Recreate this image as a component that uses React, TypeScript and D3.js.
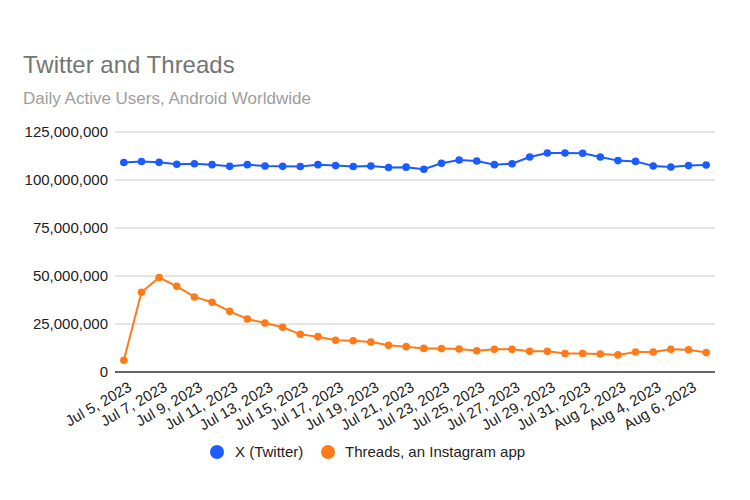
import React from "react";
import * as d3 from "d3";

// dates on the x axis (one point per day)
const dates = [
  "Jul 5, 2023", "Jul 6, 2023", "Jul 7, 2023", "Jul 8, 2023", "Jul 9, 2023",
  "Jul 10, 2023", "Jul 11, 2023", "Jul 12, 2023", "Jul 13, 2023", "Jul 14, 2023",
  "Jul 15, 2023", "Jul 16, 2023", "Jul 17, 2023", "Jul 18, 2023", "Jul 19, 2023",
  "Jul 20, 2023", "Jul 21, 2023", "Jul 22, 2023", "Jul 23, 2023", "Jul 24, 2023",
  "Jul 25, 2023", "Jul 26, 2023", "Jul 27, 2023", "Jul 28, 2023", "Jul 29, 2023",
  "Jul 30, 2023", "Jul 31, 2023", "Aug 1, 2023", "Aug 2, 2023", "Aug 3, 2023",
  "Aug 4, 2023", "Aug 5, 2023", "Aug 6, 2023", "Aug 7, 2023",
];

// daily active users, millions
const twitter = [
  109.1, 109.6, 109.2, 108.2, 108.5, 108.0, 107.1, 108.0, 107.3, 107.1,
  107.0, 108.0, 107.5, 107.0, 107.3, 106.5, 106.7, 105.6, 108.7, 110.4,
  109.9, 108.0, 108.5, 112.0, 114.1, 114.1, 113.9, 112.0, 110.1, 109.7,
  107.3, 106.8, 107.5, 107.8,
];

const threads = [
  6.1, 41.5, 49.2, 44.6, 39.1, 36.3, 31.6, 27.6, 25.5, 23.3,
  19.6, 18.4, 16.5, 16.3, 15.6, 13.9, 13.2, 12.3, 12.2, 12.0,
  11.1, 11.8, 11.8, 10.8, 10.8, 9.6, 9.6, 9.4, 8.9, 10.4,
  10.4, 11.8, 11.6, 10.1,
];

const yTicks = [0, 25, 50, 75, 100, 125];

const seriesNames = ["X (Twitter)", "Threads, an Instagram app"];
const colors = ["#1a5cff", "#ff7b19"];

const W = 750;
const H = 500;
const plot = { left: 115, right: 715, top: 132, bottom: 372 };
const font = "Arial, 'Liberation Sans', sans-serif";

export default function App() {
  const x = d3.scalePoint<string>().domain(dates).range([plot.left, plot.right]).padding(0.5);
  const y = d3.scaleLinear().domain([0, 125]).range([plot.bottom, plot.top]);
  const fmt = d3.format(",");

  const line = d3
    .line<number>()
    .x((_, i) => x(dates[i]) as number)
    .y((d) => y(d));

  const series = [twitter, threads];

  return (
    <svg
      width={W}
      height={H}
      style={{ position: "absolute", left: 0, top: 0, background: "#fff" }}
      fontFamily={font}
    >
      <rect width={W} height={H} fill="#fff" />
      <text x={23} y={73} fontSize={24} fill="#757575">
        Twitter and Threads
      </text>
      <text x={23} y={104} fontSize={17} fill="#9e9e9e">
        Daily Active Users, Android Worldwide
      </text>

      {/* gridlines + y labels */}
      {yTicks.map((t) => (
        <g key={t}>
          {t !== 0 && (
            <line x1={plot.left} x2={plot.right} y1={y(t)} y2={y(t)} stroke="#cccccc" strokeWidth={1} />
          )}
          <text x={108} y={y(t)} dy="0.35em" textAnchor="end" fontSize={15} fill="#222">
            {fmt(t * 1000000)}
          </text>
        </g>
      ))}
      <line x1={plot.left} x2={plot.right} y1={y(0)} y2={y(0)} stroke="#333" strokeWidth={1.5} />

      {/* x labels, every second day */}
      {dates.map((d, i) =>
        i % 2 === 0 ? (
          <text
            key={d}
            transform={`translate(${(x(d) as number) + 9},${plot.bottom + 18}) rotate(-30)`}
            textAnchor="end"
            fontSize={15}
            fill="#222"
          >
            {d}
          </text>
        ) : null
      )}

      {/* series */}
      {series.map((s, si) => (
        <g key={si}>
          <path d={line(s) as string} fill="none" stroke={colors[si]} strokeWidth={2} />
          {s.map((v, i) => (
            <circle key={i} cx={x(dates[i]) as number} cy={y(v)} r={3.8} fill={colors[si]} />
          ))}
        </g>
      ))}

      {/* legend */}
      <g fontSize={15} fill="#222">
        <circle cx={217} cy={452} r={7} fill={colors[0]} />
        <text x={235} y={452} dy="0.35em">{seriesNames[0]}</text>
        <circle cx={328} cy={452} r={7} fill={colors[1]} />
        <text x={345} y={452} dy="0.35em">{seriesNames[1]}</text>
      </g>
    </svg>
  );
}
